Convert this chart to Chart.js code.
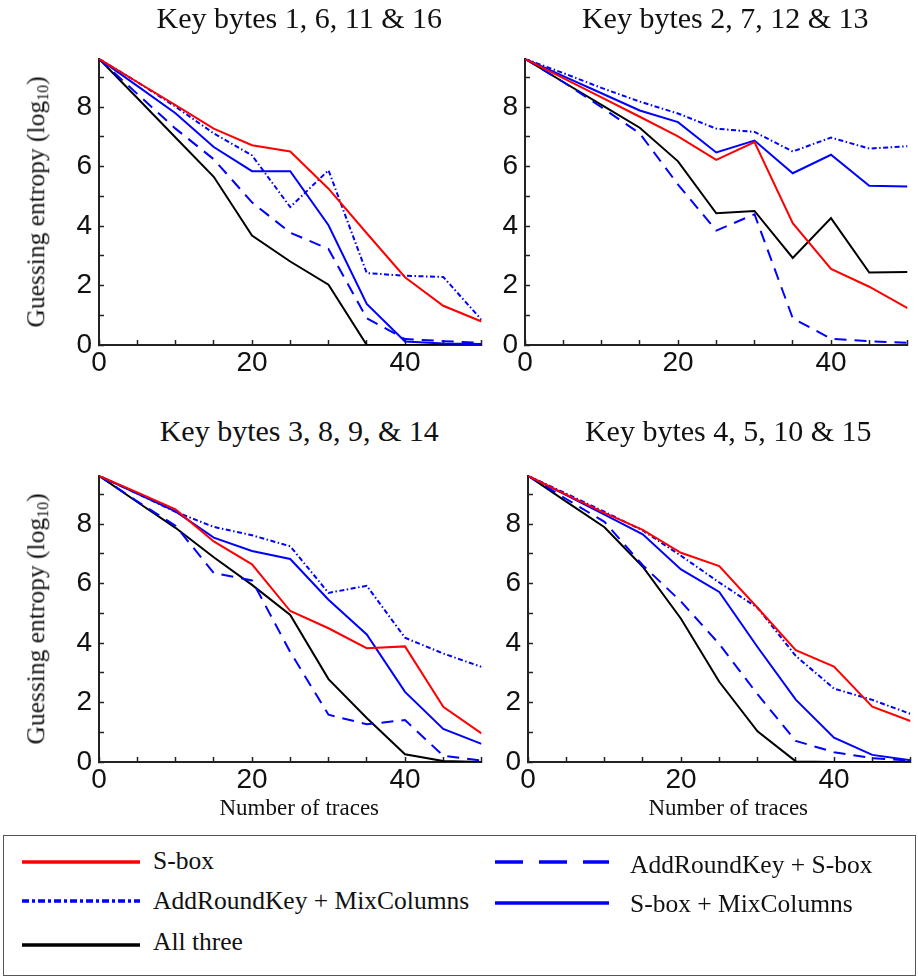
<!DOCTYPE html>
<html>
<head>
<meta charset="utf-8">
<script src="https://cdn.jsdelivr.net/npm/chart.js@4.4.0/dist/chart.umd.min.js"></script>
<style>
  body { margin:0; background:#fff; width:918px; height:977px; position:relative; overflow:hidden;
         font-family:"Liberation Serif", "Times New Roman", serif; color:#111; }
  canvas.painel { position:absolute; }
  .titulo { position:absolute; font-size:30px; line-height:1; white-space:nowrap; transform:translateX(-50%); }
  .eixo-x { position:absolute; font-size:23px; line-height:1; white-space:nowrap; transform:translateX(-50%); }
  .eixo-y { position:absolute; font-size:25.5px; line-height:1; white-space:nowrap;
            transform:translate(-50%,-50%) rotate(-90deg); }
  .eixo-y sub { font-size:16px; vertical-align:-4px; line-height:0; }
  #legenda { position:absolute; left:3px; top:835px; width:913px; height:141px;
             border:1.5px solid #555; box-sizing:border-box; }
  .leg-txt { position:absolute; font-size:25.5px; line-height:1; white-space:nowrap; }
  svg.amostra { position:absolute; left:0; top:0; width:918px; height:977px; pointer-events:none; }
</style>
</head>
<body>
<div id="legenda"></div>
<svg class="amostra" id="amostras"></svg>

<script>
const xValues = [0, 5, 10, 15, 20, 25, 30, 35, 40, 45, 50];
const xTicks = [0, 5, 10, 15, 20, 25, 30, 35, 40, 45, 50];
const xTickLabels = ['0', '', '', '', '20', '', '', '', '40', '', ''];
const yTicks = [0, 1, 2, 3, 4, 5, 6, 7, 8, 9];
const yTickLabels = ['0', '', '2', '', '4', '', '6', '', '8', ''];
const Y_MAX = 9.63;

const panelTitles = ['Key bytes 1, 6, 11 & 16', 'Key bytes 2, 7, 12 & 13',
                     'Key bytes 3, 8, 9, & 14', 'Key bytes 4, 5, 10 & 15'];
const seriesNames = ['S-box', 'AddRoundKey + S-box', 'AddRoundKey + MixColumns',
                     'S-box + MixColumns', 'All three'];

/* ── Key bytes 1, 6, 11 & 16 ── */
const sbox1     = [9.63, 8.85, 8.07, 7.28, 6.72, 6.51, 5.26, 3.76, 2.28, 1.32, 0.79];
const arkSbox1  = [9.63, 8.45, 7.28, 6.25, 4.80, 3.78, 3.23, 0.90, 0.20, 0.13, 0.07];
const arkMix1   = [9.63, 8.85, 8.02, 7.12, 6.38, 4.64, 5.88, 2.42, 2.33, 2.29, 0.85];
const sboxMix1  = [9.63, 8.72, 7.80, 6.66, 5.85, 5.85, 4.03, 1.38, 0.12, 0.05, 0.03];
const allThree1 = [9.63, 8.31, 6.98, 5.66, 3.68, 2.81, 2.03, 0.00, 0.00, 0.00, 0.00];

/* ── Key bytes 2, 7, 12 & 13 ── */
const sbox2     = [9.63, 8.98, 8.33, 7.68, 7.02, 6.23, 6.83, 4.10, 2.56, 1.96, 1.24];
const arkSbox2  = [9.63, 8.85, 8.00, 7.12, 5.40, 3.85, 4.40, 0.90, 0.21, 0.13, 0.07];
const arkMix2   = [9.63, 9.15, 8.65, 8.19, 7.79, 7.28, 7.17, 6.51, 6.98, 6.61, 6.69];
const sboxMix2  = [9.63, 9.05, 8.47, 7.89, 7.50, 6.48, 6.88, 5.78, 6.40, 5.36, 5.33];
const allThree2 = [9.63, 8.85, 8.08, 7.31, 6.18, 4.43, 4.51, 2.93, 4.27, 2.44, 2.46];

/* ── Key bytes 3, 8, 9, & 14 ── */
const sbox3     = [9.63, 9.07, 8.50, 7.42, 6.65, 5.08, 4.50, 3.83, 3.89, 1.86, 0.96];
const arkSbox3  = [9.63, 8.77, 7.95, 6.36, 6.11, 3.70, 1.59, 1.27, 1.41, 0.21, 0.05];
const arkMix3   = [9.63, 9.03, 8.42, 7.91, 7.63, 7.26, 5.69, 5.93, 4.18, 3.65, 3.20];
const sboxMix3  = [9.63, 9.03, 8.43, 7.55, 7.10, 6.83, 5.46, 4.29, 2.36, 1.11, 0.61];
const allThree3 = [9.63, 8.75, 7.88, 6.89, 5.96, 4.95, 2.79, 1.48, 0.26, 0.03, 0.00];

/* ── Key bytes 4, 5, 10 & 15 ── */
const sbox4     = [9.63, 9.00, 8.38, 7.81, 7.04, 6.59, 5.19, 3.76, 3.21, 1.86, 1.38];
const arkSbox4  = [9.63, 8.85, 8.08, 6.62, 5.40, 3.97, 2.28, 0.71, 0.33, 0.13, 0.05];
const arkMix4   = [9.63, 9.03, 8.42, 7.79, 6.94, 6.04, 5.19, 3.57, 2.47, 2.09, 1.62];
const sboxMix4  = [9.63, 8.98, 8.32, 7.66, 6.48, 5.72, 3.87, 2.10, 0.82, 0.24, 0.06];
const allThree4 = [9.63, 8.76, 7.90, 6.57, 4.82, 2.70, 1.03, 0.02, 0.00, 0.00, 0.00];

const seriesColors = ['#ff0000', '#0000ff', '#0000ff', '#0000ff', '#000000'];
const seriesDash   = [[], [12, 8], [5, 2.5, 1.5, 2.5], [], []];
const legendDash   = [[], [28, 16], [7, 3, 3, 3], [], []];

/* ── painel: posição do chartArea (esquerda, topo) ── */
const paineis = [
  { left: 99,  top: 42,  series: [sbox1, arkSbox1, arkMix1, sboxMix1, allThree1], ylab: true,  xlab: false, tBase: 28 },
  { left: 525, top: 42,  series: [sbox2, arkSbox2, arkMix2, sboxMix2, allThree2], ylab: false, xlab: false, tBase: 28 },
  { left: 99,  top: 459, series: [sbox3, arkSbox3, arkMix3, sboxMix3, allThree3], ylab: true,  xlab: true,  tBase: 441 },
  { left: 528, top: 459, series: [sbox4, arkSbox4, arkMix4, sboxMix4, allThree4], ylab: false, xlab: true,  tBase: 441 }
];

const Y_AXIS_W = 99, PAD_TOP = 12, X_AXIS_H = 35, PLOT_W = 382.5, PLOT_H = 303;
const CANVAS_W = 488, CANVAS_H = PAD_TOP + PLOT_H + X_AXIS_H;
const ASC = 0.8375; // baseline dentro de uma linha de altura 1em (Liberation Serif)

const fonteTicks = { family: '"Liberation Sans", Arial, sans-serif', size: 28 };

function criarPainel(p, idx) {
  const cv = document.createElement('canvas');
  cv.className = 'painel';
  cv.width = CANVAS_W;
  cv.height = CANVAS_H;
  cv.style.left = (p.left - Y_AXIS_W) + 'px';
  cv.style.top = (p.top - PAD_TOP) + 'px';
  document.body.appendChild(cv);

  const datasets = p.series.map((vals, i) => ({
    label: seriesNames[i],
    data: vals.map((v, k) => ({ x: xValues[k], y: v })),
    borderColor: seriesColors[i],
    borderDash: seriesDash[i],
    borderWidth: 2,
    pointRadius: 0,
    tension: 0,
    fill: false
  }));

  new Chart(cv, {
    type: 'line',
    data: { datasets },
    options: {
      responsive: false,
      animation: false,
      events: [],
      layout: { padding: { left: 0, top: PAD_TOP, right: CANVAS_W - Y_AXIS_W - PLOT_W, bottom: 0 } },
      plugins: { legend: { display: false }, tooltip: { enabled: false } },
      scales: {
        x: {
          type: 'linear', min: 0, max: 50,
          afterBuildTicks: s => { s.ticks = xTicks.map(v => ({ value: v })); },
          afterFit: s => { s.height = X_AXIS_H; },
          ticks: { autoSkip: false, maxRotation: 0, padding: 6, font: fonteTicks, color: '#111',
                   callback: (v, i) => xTickLabels[i] },
          grid: { drawOnChartArea: false, drawTicks: true, tickLength: -5, tickWidth: 1.5, tickColor: '#222' },
          border: { display: true, color: '#222', width: 2 }
        },
        y: {
          type: 'linear', min: 0, max: Y_MAX,
          afterBuildTicks: s => { s.ticks = yTicks.map(v => ({ value: v })); },
          afterFit: s => { s.width = Y_AXIS_W; },
          ticks: { autoSkip: false, padding: 12, font: fonteTicks, color: '#111',
                   callback: (v, i) => yTickLabels[i] },
          grid: { drawOnChartArea: false, drawTicks: true, tickLength: -5, tickWidth: 1.5, tickColor: '#222' },
          border: { display: true, color: '#222', width: 2 }
        }
      }
    }
  });

  const cx = p.left + PLOT_W / 2 + 9;
  const t = document.createElement('div');
  t.className = 'titulo';
  t.textContent = panelTitles[idx];
  t.style.left = cx + 'px';
  t.style.top = (p.tBase - ASC * 30) + 'px';
  document.body.appendChild(t);

  if (p.ylab) {
    const yl = document.createElement('div');
    yl.className = 'eixo-y';
    yl.innerHTML = 'Guessing entropy (log<sub>10</sub>)';
    yl.style.left = (p.left - 63) + 'px';
    yl.style.top = (p.top + 160) + 'px';
    document.body.appendChild(yl);
  }

  if (p.xlab) {
    const xl = document.createElement('div');
    xl.className = 'eixo-x';
    xl.textContent = 'Number of traces';
    xl.style.left = cx + 'px';
    xl.style.top = (p.top + PLOT_H + 53 - ASC * 23) + 'px';
    document.body.appendChild(xl);
  }
}

paineis.forEach(criarPainel);

/* ── Legenda ── */
const legItens = [
  { serie: 0, x1: 22,  x2: 140, y: 862, tx: 153, base: 869 },
  { serie: 1, x1: 495, x2: 609, y: 862, tx: 630, base: 873 },
  { serie: 2, x1: 22,  x2: 140, y: 901, tx: 153, base: 909 },
  { serie: 3, x1: 495, x2: 609, y: 903, tx: 630, base: 912.5 },
  { serie: 4, x1: 22,  x2: 140, y: 945, tx: 153, base: 950 }
];

const svg = document.getElementById('amostras');
legItens.forEach(it => {
  const ln = document.createElementNS('http://www.w3.org/2000/svg', 'line');
  ln.setAttribute('x1', it.x1); ln.setAttribute('x2', it.x2);
  ln.setAttribute('y1', it.y); ln.setAttribute('y2', it.y);
  ln.setAttribute('stroke', seriesColors[it.serie]);
  ln.setAttribute('stroke-width', 3.5);
  if (legendDash[it.serie].length) ln.setAttribute('stroke-dasharray', legendDash[it.serie].join(' '));
  svg.appendChild(ln);

  const tx = document.createElement('div');
  tx.className = 'leg-txt';
  tx.textContent = seriesNames[it.serie];
  tx.style.left = it.tx + 'px';
  tx.style.top = (it.base - ASC * 25.5) + 'px';
  document.body.appendChild(tx);
});
</script>
</body>
</html>
